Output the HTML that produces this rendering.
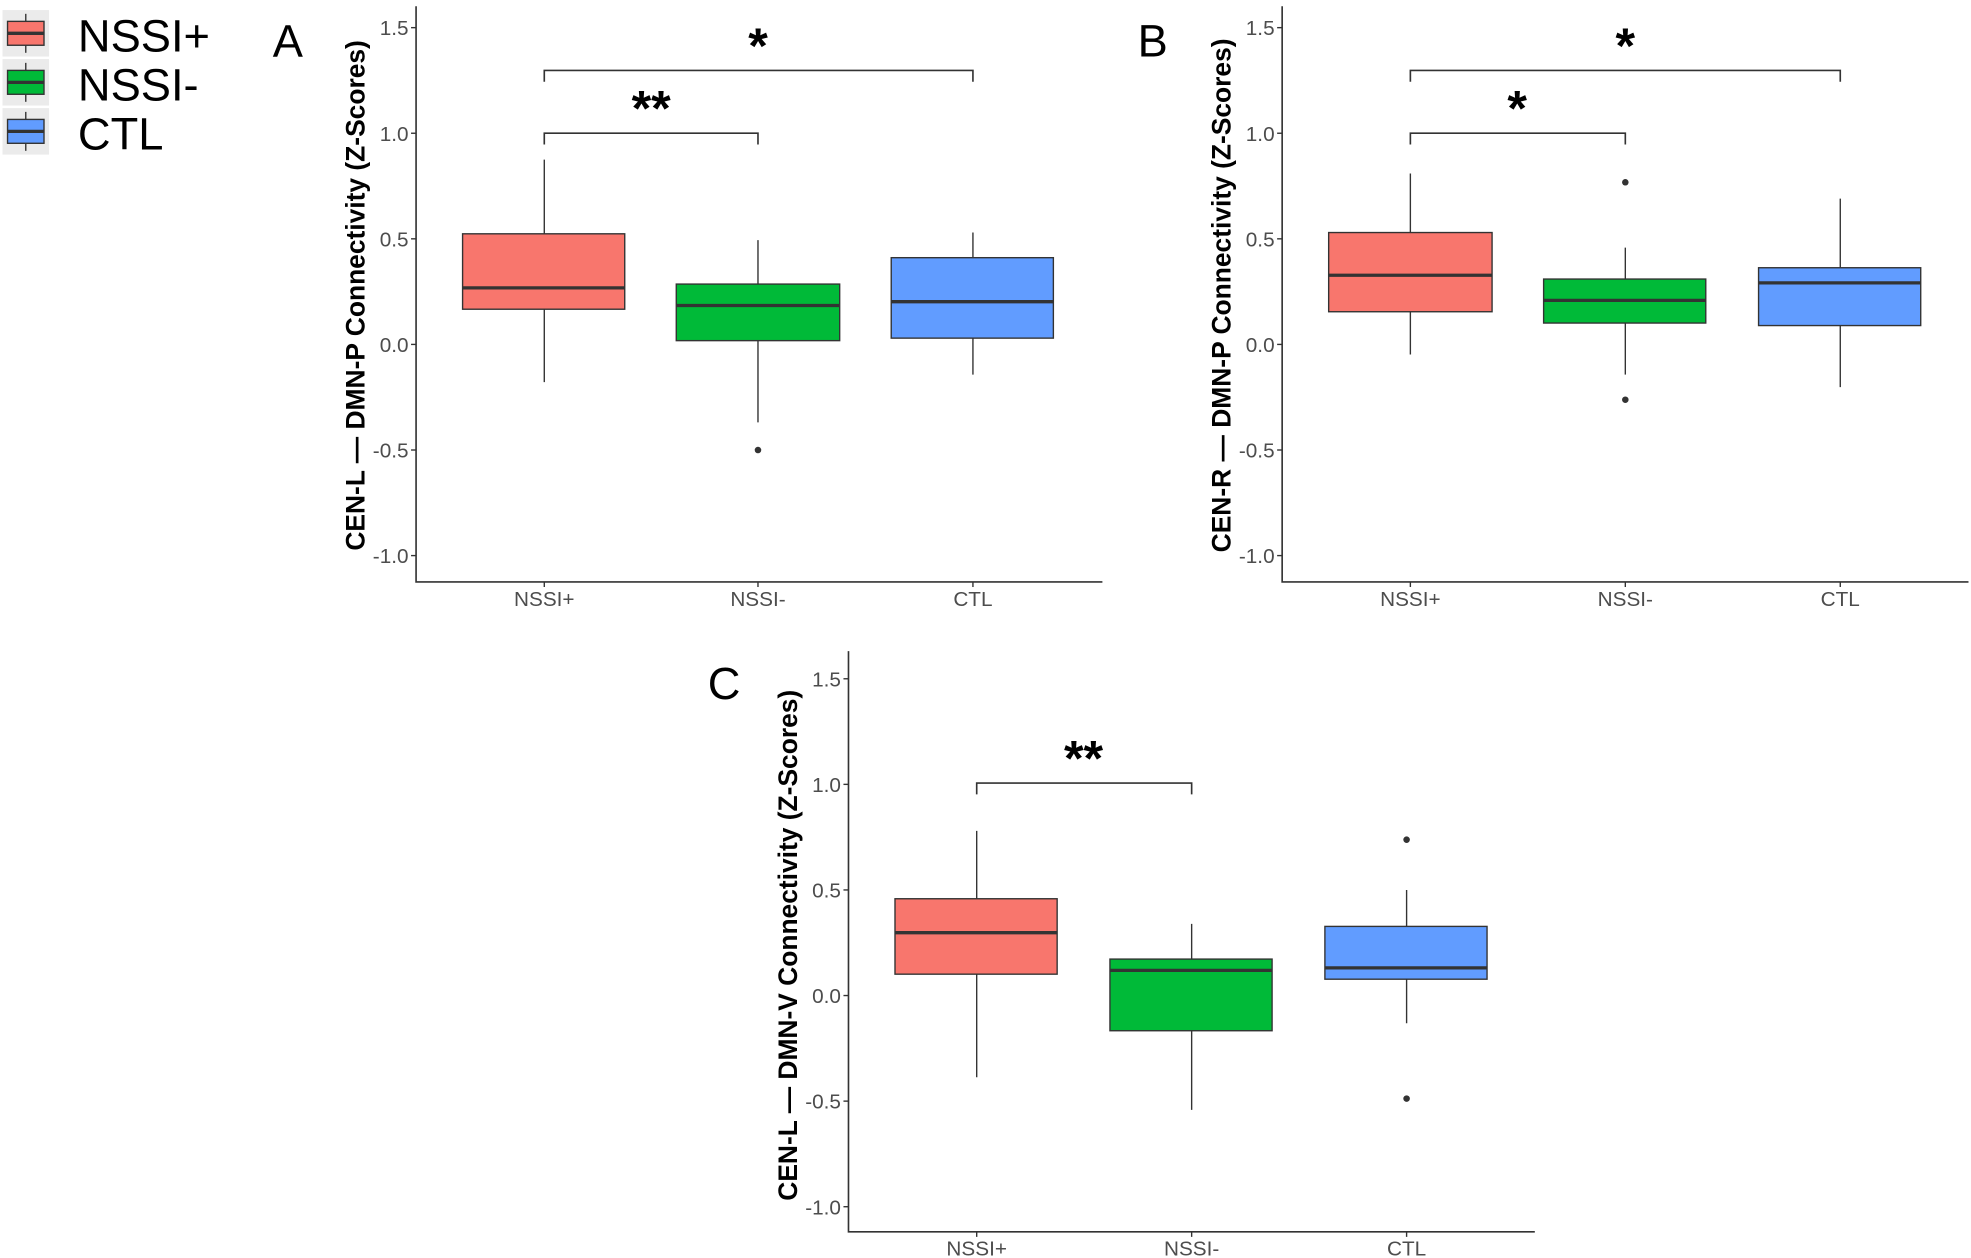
<!DOCTYPE html>
<html><head><meta charset="utf-8"><style>
html,body{margin:0;padding:0;background:#fff;}
svg{display:block;}
text{font-family:"Liberation Sans",sans-serif;}
.tk{font-size:16.5px;fill:#4d4d4d;text-anchor:end;}
.xl{font-size:16.5px;fill:#4d4d4d;text-anchor:middle;}
.yt{font-size:21px;font-weight:bold;fill:#000;text-anchor:middle;}
.pl{font-size:36px;fill:#000;}
.st{font-size:40px;font-weight:bold;fill:#000;text-anchor:middle;}
.ax{stroke:#333;stroke-width:1.3;fill:none;}
.wh{stroke:#333;stroke-width:1.1;}
.bx{stroke:#333;stroke-width:1.1;}
.md{stroke:#333;stroke-width:2.6;}
.br{stroke:#333;stroke-width:1.3;fill:none;}
</style></head><body>
<svg width="1971" height="1258" viewBox="0 0 1568 1000.8" preserveAspectRatio="none" xmlns="http://www.w3.org/2000/svg">
<!-- Legend -->
<rect x="2" y="8" width="37" height="37" fill="#ebebeb"/>
<rect x="2" y="47" width="37" height="37" fill="#ebebeb"/>
<rect x="2" y="86" width="37" height="37" fill="#ebebeb"/>
<line x1="20.5" y1="11" x2="20.5" y2="42" class="wh" stroke-width="1.6"/>
<rect x="6" y="17" width="29" height="19" fill="#F8766D" class="bx" stroke-width="1.6"/><line x1="6" y1="26.5" x2="35" y2="26.5" class="md"/>
<line x1="20.5" y1="50" x2="20.5" y2="81" class="wh" stroke-width="1.6"/>
<rect x="6" y="56" width="29" height="19" fill="#00BA38" class="bx" stroke-width="1.6"/><line x1="6" y1="65.5" x2="35" y2="65.5" class="md"/>
<line x1="20.5" y1="89" x2="20.5" y2="120" class="wh" stroke-width="1.6"/>
<rect x="6" y="95" width="29" height="19" fill="#619CFF" class="bx" stroke-width="1.6"/><line x1="6" y1="104.5" x2="35" y2="104.5" class="md"/>
<text x="62" y="41" font-size="36">NSSI+</text>
<text x="62" y="80" font-size="36">NSSI-</text>
<text x="62" y="119" font-size="36">CTL</text>

<!-- Panel A -->
<text x="217" y="45" class="pl">A</text>
<text transform="translate(290,235) rotate(-90)" class="yt">CEN-L — DMN-P Connectivity (Z-Scores)</text>
<path d="M331,5 V463 H877" class="ax"/>
<g class="tk">
<text x="325" y="28">1.5</text><text x="325" y="112">1.0</text><text x="325" y="196">0.5</text>
<text x="325" y="280">0.0</text><text x="325" y="364">-0.5</text><text x="325" y="448">-1.0</text></g>
<g class="wh"><line x1="327" y1="22" x2="331" y2="22"/><line x1="327" y1="106" x2="331" y2="106"/><line x1="327" y1="190" x2="331" y2="190"/><line x1="327" y1="274" x2="331" y2="274"/><line x1="327" y1="358" x2="331" y2="358"/><line x1="327" y1="442" x2="331" y2="442"/>
<line x1="433" y1="463" x2="433" y2="467"/><line x1="603" y1="463" x2="603" y2="467"/><line x1="774" y1="463" x2="774" y2="467"/></g>
<g class="xl"><text x="433" y="482">NSSI+</text><text x="603" y="482">NSSI-</text><text x="774" y="482">CTL</text></g>
<line x1="433" y1="127" x2="433" y2="304" class="wh"/>
<rect x="368" y="186" width="129" height="60" fill="#F8766D" class="bx"/><line x1="368" y1="229" x2="497" y2="229" class="md"/>
<line x1="603" y1="191" x2="603" y2="336" class="wh"/>
<rect x="538" y="226" width="130" height="45" fill="#00BA38" class="bx"/><line x1="538" y1="243" x2="668" y2="243" class="md"/>
<circle cx="603" cy="358" r="2.6" fill="#333"/>
<line x1="774" y1="185" x2="774" y2="298" class="wh"/>
<rect x="709" y="205" width="129" height="64" fill="#619CFF" class="bx"/><line x1="709" y1="240" x2="838" y2="240" class="md"/>
<path d="M433,115 V106 H603 V115" class="br"/>
<path d="M433,65 V56 H774 V65" class="br"/>
<text x="518" y="100" class="st">**</text>
<text x="603" y="50" class="st">*</text>

<!-- Panel B -->
<text x="905" y="45" class="pl">B</text>
<text transform="translate(979,235) rotate(-90)" class="yt">CEN-R — DMN-P Connectivity (Z-Scores)</text>
<path d="M1020,5 V463 H1566" class="ax"/>
<g class="tk">
<text x="1014" y="28">1.5</text><text x="1014" y="112">1.0</text><text x="1014" y="196">0.5</text>
<text x="1014" y="280">0.0</text><text x="1014" y="364">-0.5</text><text x="1014" y="448">-1.0</text></g>
<g class="wh"><line x1="1016" y1="22" x2="1020" y2="22"/><line x1="1016" y1="106" x2="1020" y2="106"/><line x1="1016" y1="190" x2="1020" y2="190"/><line x1="1016" y1="274" x2="1020" y2="274"/><line x1="1016" y1="358" x2="1020" y2="358"/><line x1="1016" y1="442" x2="1020" y2="442"/>
<line x1="1122" y1="463" x2="1122" y2="467"/><line x1="1293" y1="463" x2="1293" y2="467"/><line x1="1464" y1="463" x2="1464" y2="467"/></g>
<g class="xl"><text x="1122" y="482">NSSI+</text><text x="1293" y="482">NSSI-</text><text x="1464" y="482">CTL</text></g>
<line x1="1122" y1="138" x2="1122" y2="282" class="wh"/>
<rect x="1057" y="185" width="130" height="63" fill="#F8766D" class="bx"/><line x1="1057" y1="219" x2="1187" y2="219" class="md"/>
<line x1="1293" y1="197" x2="1293" y2="298" class="wh"/>
<rect x="1228" y="222" width="129" height="35" fill="#00BA38" class="bx"/><line x1="1228" y1="239" x2="1357" y2="239" class="md"/>
<circle cx="1293" cy="145" r="2.6" fill="#333"/><circle cx="1293" cy="318" r="2.6" fill="#333"/>
<line x1="1464" y1="158" x2="1464" y2="308" class="wh"/>
<rect x="1399" y="213" width="129" height="46" fill="#619CFF" class="bx"/><line x1="1399" y1="225" x2="1528" y2="225" class="md"/>
<path d="M1122,115 V106 H1293 V115" class="br"/>
<path d="M1122,65 V56 H1464 V65" class="br"/>
<text x="1207" y="100" class="st">*</text>
<text x="1293" y="50" class="st">*</text>

<!-- Panel C -->
<text x="563" y="556" class="pl">C</text>
<text transform="translate(634,752) rotate(-90)" class="yt">CEN-L — DMN-V Connectivity (Z-Scores)</text>
<path d="M675,518 V980 H1221" class="ax"/>
<g class="tk">
<text x="669" y="546">1.5</text><text x="669" y="630">1.0</text><text x="669" y="714">0.5</text>
<text x="669" y="798">0.0</text><text x="669" y="882">-0.5</text><text x="669" y="966">-1.0</text></g>
<g class="wh"><line x1="671" y1="540" x2="675" y2="540"/><line x1="671" y1="624" x2="675" y2="624"/><line x1="671" y1="708" x2="675" y2="708"/><line x1="671" y1="792" x2="675" y2="792"/><line x1="671" y1="876" x2="675" y2="876"/><line x1="671" y1="960" x2="675" y2="960"/>
<line x1="777" y1="980" x2="777" y2="984"/><line x1="948" y1="980" x2="948" y2="984"/><line x1="1119" y1="980" x2="1119" y2="984"/></g>
<g class="xl"><text x="777" y="999">NSSI+</text><text x="948" y="999">NSSI-</text><text x="1119" y="999">CTL</text></g>
<line x1="777" y1="661" x2="777" y2="857" class="wh"/>
<rect x="712" y="715" width="129" height="60" fill="#F8766D" class="bx"/><line x1="712" y1="742" x2="841" y2="742" class="md"/>
<line x1="948" y1="735" x2="948" y2="883" class="wh"/>
<rect x="883" y="763" width="129" height="57" fill="#00BA38" class="bx"/><line x1="883" y1="772" x2="1012" y2="772" class="md"/>
<line x1="1119" y1="708" x2="1119" y2="814" class="wh"/>
<rect x="1054" y="737" width="129" height="42" fill="#619CFF" class="bx"/><line x1="1054" y1="770" x2="1183" y2="770" class="md"/>
<circle cx="1119" cy="668" r="2.6" fill="#333"/><circle cx="1119" cy="874" r="2.6" fill="#333"/>
<path d="M777,632 V623 H948 V632" class="br"/>
<text x="862" y="617" class="st">**</text>
</svg>
</body></html>
